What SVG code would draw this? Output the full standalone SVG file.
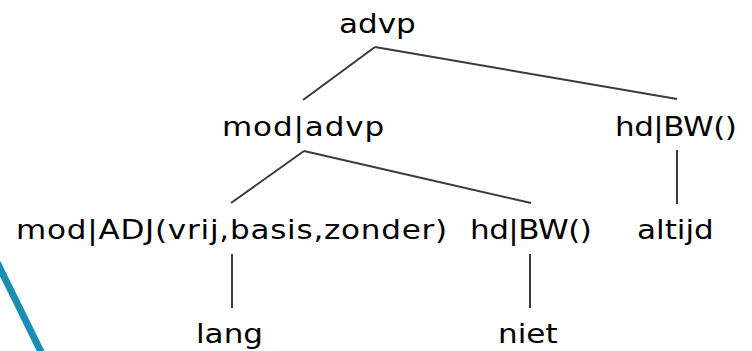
<svg xmlns="http://www.w3.org/2000/svg" width="752" height="351" viewBox="0 0 752 351">
  <style>
    .lbl { font-family: "DejaVu Sans", "Liberation Sans", sans-serif; font-size: 27px; fill: #000; }
    .edge { stroke: #3a3a3a; stroke-width: 2; fill: none; stroke-linecap: butt; }
  </style>
  <rect x="0" y="0" width="752" height="351" fill="#ffffff"/>

  <!-- tree edges -->
  <g id="connectors">
    <line class="edge" x1="375" y1="47" x2="303" y2="100"/>
    <line class="edge" x1="375" y1="47" x2="677" y2="99"/>
    <line class="edge" x1="304" y1="151" x2="231" y2="203"/>
    <line class="edge" x1="304" y1="151" x2="531" y2="203"/>
    <line class="edge" x1="677" y1="150" x2="677" y2="204"/>
    <line class="edge" x1="232" y1="254" x2="232" y2="308"/>
    <line class="edge" x1="530" y1="254" x2="530" y2="308"/>
  </g>

  <!-- nodes (labels set slightly wide) -->
  <g id="n-advp" transform="translate(339,33) scale(1.15,1)"><text class="lbl">advp</text></g>
  <g id="n-mod-advp" transform="translate(222,136) scale(1.15,1)"><text class="lbl" textLength="141" lengthAdjust="spacing">mod|advp</text></g>
  <g id="n-hd-bw-1" transform="translate(615,136) scale(1.15,1)"><text class="lbl" textLength="106" lengthAdjust="spacing">hd|BW()</text></g>
  <g id="n-mod-adj" transform="translate(16,239) scale(1.15,1)"><text class="lbl" textLength="375" lengthAdjust="spacing">mod|ADJ(vrij,basis,zonder)</text></g>
  <g id="n-hd-bw-2" transform="translate(470,239) scale(1.15,1)"><text class="lbl" textLength="106" lengthAdjust="spacing">hd|BW()</text></g>
  <g id="n-altijd" transform="translate(637,239) scale(1.15,1)"><text class="lbl">altijd</text></g>
  <g id="n-lang" transform="translate(196,343) scale(1.15,1)"><text class="lbl">lang</text></g>
  <g id="n-niet" transform="translate(498,343) scale(1.15,1)"><text class="lbl">niet</text></g>

  <!-- blue stroke at the lower left -->
  <line x1="-12" y1="244" x2="48" y2="366" stroke="#1a8db4" stroke-width="7"/>
</svg>
